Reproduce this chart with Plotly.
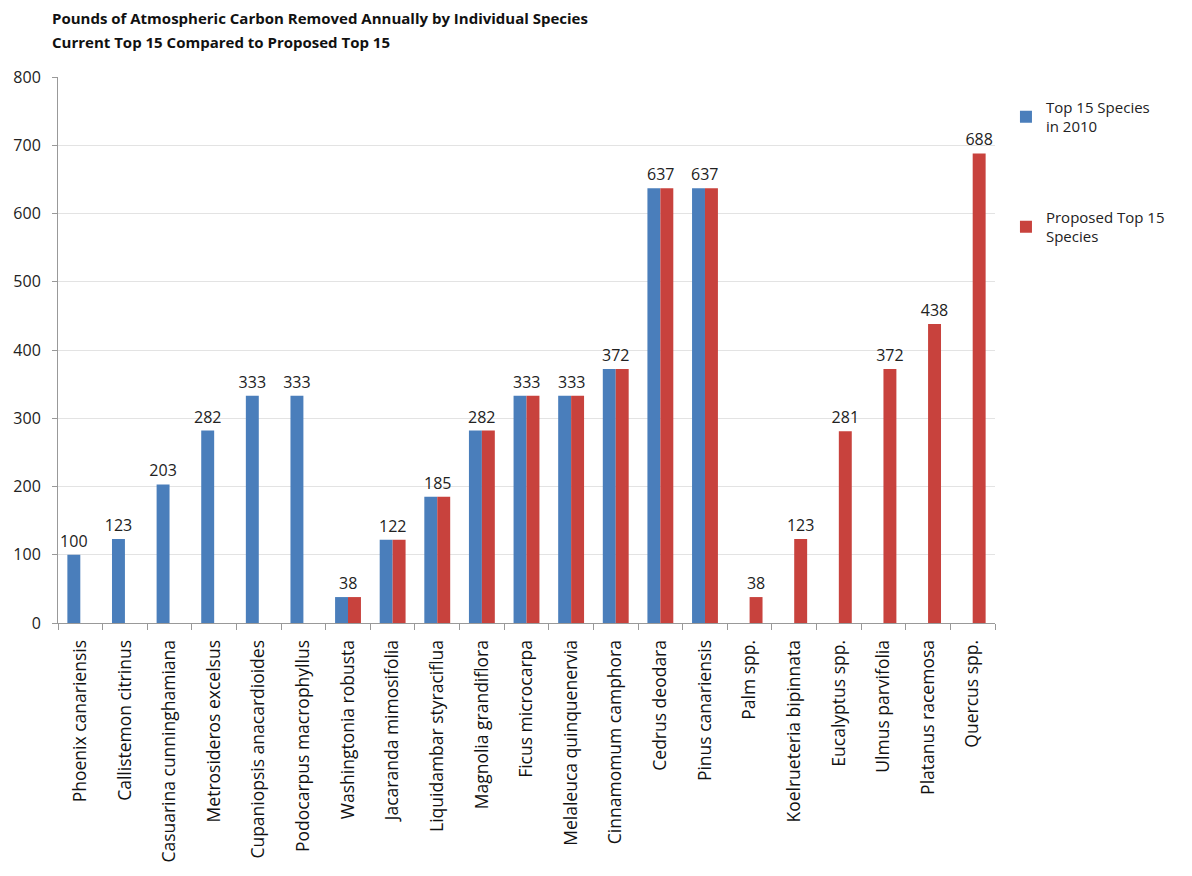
import plotly.graph_objects as go

categories = [
    "Phoenix canariensis", "Callistemon citrinus", "Casuarina cunninghamiana",
    "Metrosideros excelsus", "Cupaniopsis anacardioides", "Podocarpus macrophyllus",
    "Washingtonia robusta", "Jacaranda mimosifolia", "Liquidambar styraciflua",
    "Magnolia grandiflora", "Ficus microcarpa", "Melaleuca quinquenervia",
    "Cinnamomum camphora", "Cedrus deodara", "Pinus canariensis", "Palm spp.",
    "Koelrueteria bipinnata", "Eucalyptus spp.", "Ulmus parvifolia",
    "Platanus racemosa", "Quercus spp.",
]
top15_2010 = [100, 123, 203, 282, 333, 333, 38, 122, 185, 282, 333, 333, 372, 637, 637,
              None, None, None, None, None, None]
proposed_top15 = [None, None, None, None, None, None, 38, 122, 185, 282, 333, 333, 372, 637, 637,
                  38, 123, 281, 372, 438, 688]
y_ticks = [0, 100, 200, 300, 400, 500, 600, 700, 800]
title_lines = ["Pounds of Atmospheric Carbon Removed Annually by Individual Species",
               "Current Top 15 Compared to Proposed Top 15"]

FONT = "Open Sans"
BLUE = "#4A7EBB"
RED = "#C8423D"
LABEL_FONT = dict(family=FONT, size=16, color="#222222")

# single labels: shown on a bar only when the other series is empty
blue_text = [str(b) if (b is not None and r is None) else "" for b, r in zip(top15_2010, proposed_top15)]
red_text = [str(r) if (r is not None and b is None) else "" for b, r in zip(top15_2010, proposed_top15)]

fig = go.Figure()
fig.add_trace(go.Bar(
    x=categories, y=top15_2010, name="Top 15 Species<br>in 2010",
    marker=dict(color=BLUE, line=dict(width=0)),
    text=blue_text, textposition="outside", cliponaxis=False, constraintext="none",
    textfont=LABEL_FONT, legendgroup="a",
))
fig.add_trace(go.Bar(
    x=categories, y=proposed_top15, name="Proposed Top 15<br>Species",
    marker=dict(color=RED, line=dict(width=0)),
    text=red_text, textposition="outside", cliponaxis=False, constraintext="none",
    textfont=LABEL_FONT, legendgroup="b",
))

# shared labels centered over paired bars
for c, b, r in zip(categories, top15_2010, proposed_top15):
    if b is not None and r is not None:
        fig.add_annotation(x=c, y=max(b, r), text=str(max(b, r)), showarrow=False,
                           yanchor="bottom", yshift=1, font=LABEL_FONT)

# two-line bold title, top-left
for i, line in enumerate(title_lines):
    fig.add_annotation(
        text=line, xref="paper", yref="paper", x=-0.0085, xanchor="left",
        y=1 + (77 - 18 - 24 * i) / 546, yanchor="middle", showarrow=False,
        font=dict(family=FONT, size=15, color="#111111", weight="bold"),
    )

fig.update_layout(
    width=1192, height=876,
    paper_bgcolor="white", plot_bgcolor="white",
    margin=dict(l=58, r=197, t=77, b=253),
    barmode="group", bargap=0.42, bargroupgap=0,
    legend=dict(
        x=1.0117, xanchor="left", y=0.975, yanchor="top",
        font=dict(family=FONT, size=15, color="#222222"),
        tracegroupgap=68, traceorder="grouped",
        bgcolor="rgba(0,0,0,0)",
    ),
    font=dict(family=FONT, size=15, color="#222222"),
)
fig.update_xaxes(
    type="category", tickangle=-90, tickson="boundaries",
    ticks="outside", ticklen=6, tickcolor="#999999",
    showline=True, linecolor="#999999", linewidth=1,
    tickfont=dict(family=FONT, size=17.5, color="#111111"),
    ticklabelstandoff=9,
    showgrid=False,
)
fig.update_yaxes(
    range=[0, 800], tickvals=y_ticks, ticktext=[str(v) for v in y_ticks],
    ticks="outside", ticklen=5, tickcolor="#999999",
    showline=True, linecolor="#999999", linewidth=1,
    gridcolor="#E3E3E3", gridwidth=1, zeroline=False,
    tickfont=dict(family=FONT, size=16, color="#222222"),
    ticklabelstandoff=8,
)

fig.write_html("out.html")
